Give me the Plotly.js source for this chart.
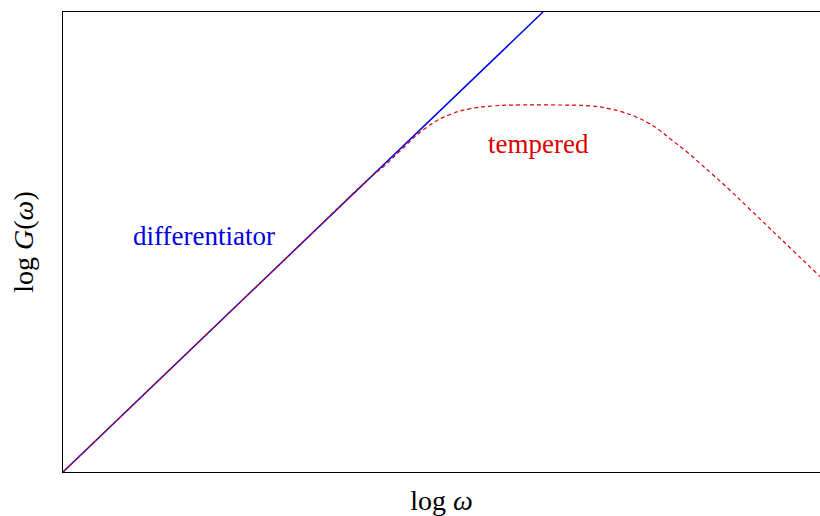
<!DOCTYPE html>
<html>
<head>
<meta charset="utf-8">
<script src="https://cdn.plot.ly/plotly-3.0.1.min.js"></script>
<style>html,body{margin:0;padding:0;background:#fff;}</style>
</head>
<body>
<div id="chart" style="width:820px;height:516px;"></div>
<script>
// log ω (arbitrary units) and log G(ω) (arbitrary units)
const diffX = [0, 4.80];
const diffY = [0, 4.80];
const tempX = [0, 1.37, 2.37, 3.07, 3.22, 3.37, 3.64, 3.87, 4.07, 4.30, 4.57, 4.87, 5.27, 5.47, 5.60, 5.72, 5.84, 5.96, 6.08, 6.24, 6.37, 6.49, 6.67, 6.84, 7.17, 7.57];
const tempY = [0, 1.37, 2.37, 3.07, 3.20, 3.35, 3.60, 3.73, 3.79, 3.82, 3.83, 3.83, 3.82, 3.79, 3.755, 3.71, 3.65, 3.57, 3.47, 3.34, 3.22, 3.11, 2.94, 2.77, 2.44, 2.04];
const labels = ["differentiator", "tempered"];

const serif = "Liberation Serif, Times New Roman, serif";
const traces = [
  {x: diffX, y: diffY, mode: "lines", line: {color: "rgb(0,0,230)", width: 1.5}, hoverinfo: "skip"},
  {x: tempX, y: tempY, mode: "lines", line: {color: "rgb(220,0,0)", width: 1.2, dash: "4px,3px", shape: "spline", smoothing: 1.3}, hoverinfo: "skip"}
];
const layout = {
  width: 820, height: 516,
  margin: {l: 63, r: 0, t: 12, b: 44},
  paper_bgcolor: "#fff", plot_bgcolor: "#fff",
  showlegend: false,
  font: {family: serif, color: "#000"},
  xaxis: {range: [0, 7.57], showgrid: false, zeroline: false, showticklabels: false, ticks: "",
          showline: true, linecolor: "#000", linewidth: 1.3, mirror: true,
          title: {text: "log <i>ω</i>", font: {family: serif, size: 28, color: "#000"}, standoff: 19}},
  yaxis: {range: [0, 4.80], showgrid: false, zeroline: false, showticklabels: false, ticks: "",
          showline: true, linecolor: "#000", linewidth: 1.3,
          title: {text: "log <i>G</i>(<i>ω</i>)", font: {family: serif, size: 28, color: "#000"}, standoff: 20}},
  annotations: [
    {x: 1.41, y: 2.46, xref: "x", yref: "y", text: labels[0], showarrow: false, font: {family: serif, size: 27, color: "rgb(0,0,230)"}},
    {x: 4.75, y: 3.42, xref: "x", yref: "y", text: labels[1], showarrow: false, font: {family: serif, size: 27, color: "rgb(220,0,0)"}}
  ]
};
Plotly.newPlot("chart", traces, layout, {displayModeBar: false, staticPlot: true});
</script>
</body>
</html>
